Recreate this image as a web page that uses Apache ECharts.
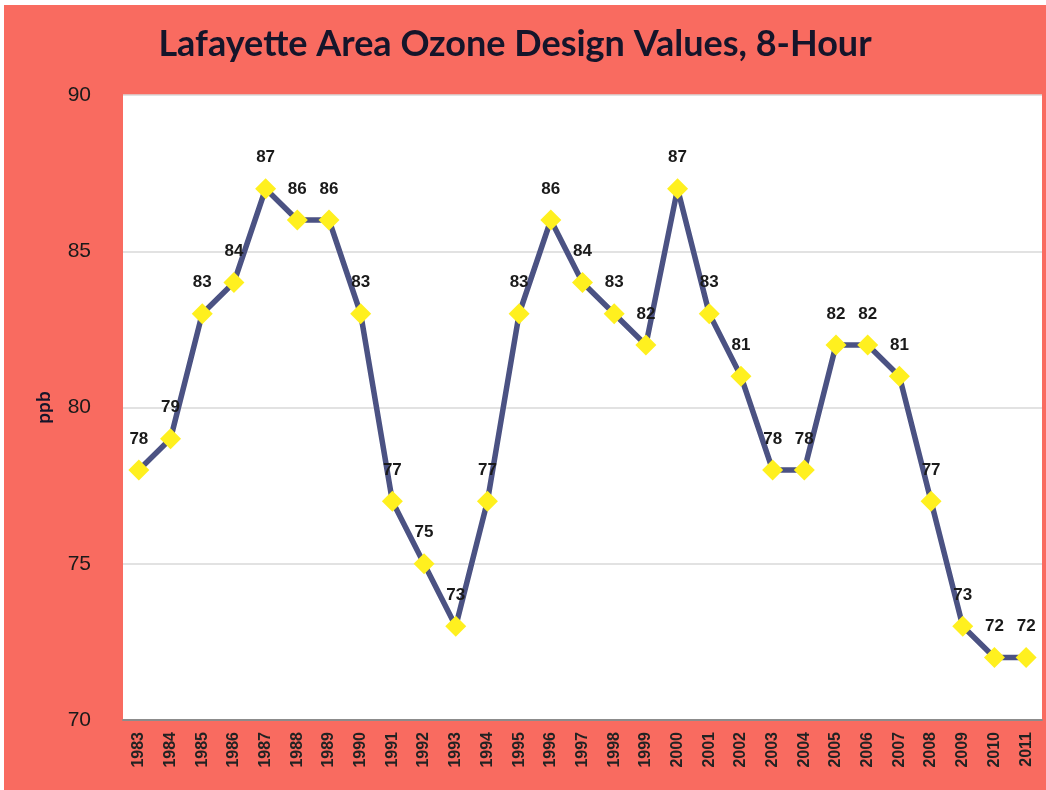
<!DOCTYPE html>
<html>
<head>
<meta charset="utf-8">
<script src="https://cdn.jsdelivr.net/npm/echarts@6/dist/echarts.min.js"></script>
<style>
  html, body { margin: 0; padding: 0; background: #fff; }
  #chart { position: absolute; left: 4px; top: 5px; width: 1042px; height: 785px; }
</style>
</head>
<body>
<div id="chart"></div>
<script>
// 年份
const years = ['1983', '1984', '1985', '1986', '1987', '1988', '1989', '1990', '1991', '1992',
  '1993', '1994', '1995', '1996', '1997', '1998', '1999', '2000', '2001', '2002',
  '2003', '2004', '2005', '2006', '2007', '2008', '2009', '2010', '2011'];
// 8小时臭氧设计值 (ppb)
const ozoneValues = [78, 79, 83, 84, 87, 86, 86, 83, 77, 75,
  73, 77, 83, 86, 84, 83, 82, 87, 83, 81,
  78, 78, 82, 82, 81, 77, 73, 72, 72];
const yMin = 70;
const yMax = 90;
const yStep = 5;

const myChart = echarts.init(document.getElementById('chart'));
myChart.setOption({
  backgroundColor: '#F96B60',
  animation: false,
  title: {
    text: 'Lafayette Area Ozone Design Values, 8-Hour',
    left: 506,
    top: 16,
    textAlign: 'center',
    textStyle: {
      fontFamily: 'Lato',
      fontWeight: 'bold',
      fontSize: 36,
      color: '#15152a',
    },
  },
  grid: {
    left: 119,
    right: 4,
    top: 90,
    bottom: 70,
    show: true,
    backgroundColor: '#ffffff',
    borderWidth: 0,
  },
  xAxis: {
    type: 'category',
    data: years,
    boundaryGap: true,
    axisLine: { lineStyle: { color: '#8c8c8c', width: 2 } },
    axisTick: { show: false },
    axisLabel: {
      interval: 0,
      rotate: 90,
      margin: 12,
      color: '#222',
      fontFamily: 'Liberation Sans',
      fontWeight: 'bold',
      fontSize: 16,
    },
  },
  yAxis: {
    type: 'value',
    min: yMin,
    max: yMax,
    interval: yStep,
    name: 'ppb',
    nameLocation: 'middle',
    nameGap: 70,
    nameRotate: 90,
    nameTextStyle: {
      color: '#15152a',
      fontFamily: 'Lato',
      fontWeight: 'bold',
      fontSize: 19,
    },
    axisLine: { show: false },
    axisTick: { show: false },
    axisLabel: {
      margin: 32,
      color: '#1a1a1a',
      fontFamily: 'Liberation Sans',
      fontSize: 21,
    },
    splitLine: { lineStyle: { color: '#d9d9d9', width: 1.5 } },
  },
  series: [
    {
      type: 'line',
      data: ozoneValues,
      symbol: 'diamond',
      symbolSize: 21,
      itemStyle: { color: '#FFF01F' },
      lineStyle: { color: '#4B5283', width: 5.5 },
      label: {
        show: true,
        position: 'top',
        distance: 12,
        color: '#1a1a1a',
        fontFamily: 'Liberation Sans',
        fontWeight: 'bold',
        fontSize: 17,
      },
      z: 3,
    },
  ],
});
</script>
</body>
</html>
